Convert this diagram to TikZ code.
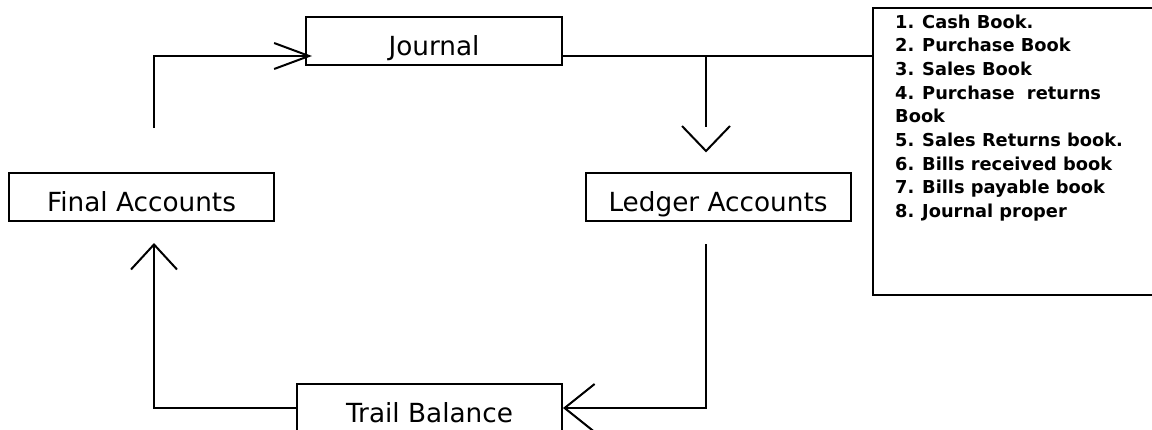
\documentclass[tikz,border=0pt]{standalone}
\usepackage{fontspec}
\setmainfont{DejaVu Sans}
\usetikzlibrary{arrows.meta}
\begin{document}
\begin{tikzpicture}[x=1pt,y=-1pt,
  box/.style={draw,line width=2pt,inner sep=0pt,minimum width=265pt,minimum height=48pt,
    font=\fontsize{26.3}{30}\selectfont,text height=29pt,text depth=0pt},
  conn/.style={line width=2pt},
  item/.style={anchor=base west,inner sep=0pt,
    font=\bfseries\fontsize{17.8}{22}\selectfont}]
\useasboundingbox (0,0) rectangle (1152,429);
\clip (0,0) rectangle (1152,429);
\fill[white] (0,0) rectangle (1152,429);
% boxes
\node[box,minimum width=256pt] (journal) at (434,41) {Journal};
\node[box] (final) at (141.5,197) {Final Accounts};
\node[box] (ledger) at (718,197) {Ledger Accounts};
\node[box] (trail) at (429.5,408) {Trail Balance};
\node[draw,line width=2pt,inner sep=0pt,minimum width=330pt,minimum height=287pt] (books) at (1038,151.5) {};
% list
\newcommand{\numitem}[2]{\makebox[27pt][l]{#1}#2}
\node[item] (l1) at (895,28.0) {\numitem{1.}{Cash Book.}};
\node[item] (l2) at (895,51.7) {\numitem{2.}{Purchase Book}};
\node[item] (l3) at (895,75.4) {\numitem{3.}{Sales Book}};
\node[item] (l4) at (895,99.1) {\numitem{4.}{Purchase\ \ returns}};
\node[item] (l5) at (895,122.8) {Book};
\node[item] (l6) at (895,146.5) {\numitem{5.}{Sales Returns book.}};
\node[item] (l7) at (895,170.2) {\numitem{6.}{Bills received book}};
\node[item] (l8) at (895,193.9) {\numitem{7.}{Bills payable book}};
\node[item] (l9) at (895,217.6) {\numitem{8.}{Journal proper}};
% connectors
\coordinate (fstart) at (154,128);
\draw[conn,-{Straight Barb[length=35pt,width=26pt]}] (fstart) |- ([xshift=7pt,yshift=-15pt]journal.west);
\draw[conn] ([yshift=-15pt]journal.east) -- ([yshift=-15pt]journal.east -| books.west);
\coordinate (j) at (706,56);
\coordinate (shaftend) at (706,127);
\coordinate (ltip) at (706,151);
\draw[conn] (j) -- (shaftend);
\draw[conn] ([shift={(-24,-25)}]ltip) -- (ltip) -- ([shift={(24,-25)}]ltip);
\coordinate (lstart) at (706,244);
\draw[conn,-{Straight Barb[length=30pt,width=48pt]}] (lstart) |- (trail.east);
\coordinate (ftip) at (154,243);
\draw[conn,-{Straight Barb[length=25pt,width=46pt]}] (trail.west) -| (ftip);
\end{tikzpicture}
\end{document}
